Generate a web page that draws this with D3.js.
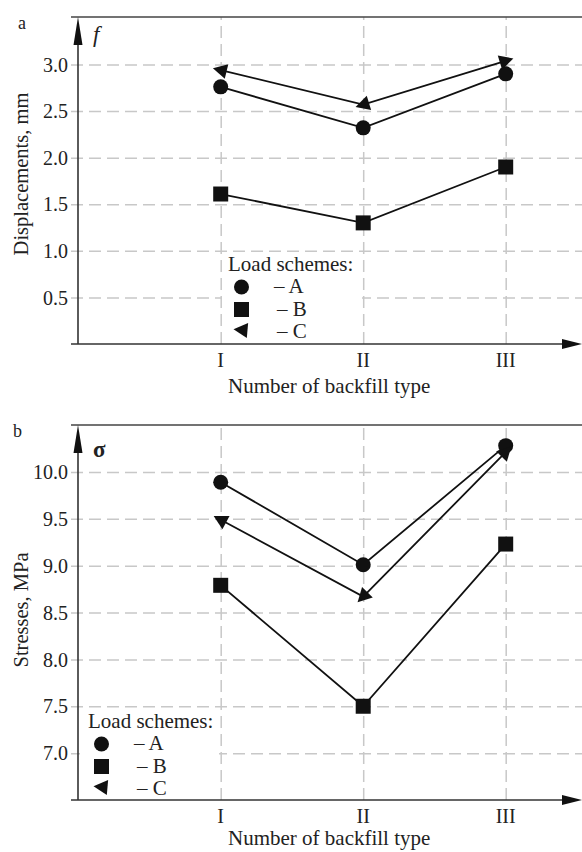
<!DOCTYPE html>
<html lang="en">

<head>
    <meta charset="utf-8">
    <!-- Load d3.js -->
    <script src="https://d3js.org/d3.v7.min.js"></script>
    <style>
        body {
            margin: 0;
            background: white;
        }

        text {
            font-family: "Liberation Serif", "DejaVu Serif", serif;
            fill: #222;
        }

        .grid line {
            stroke: #c8c8c8;
            stroke-width: 1.5px;
            stroke-dasharray: 12, 6;
        }

        .grid path {
            stroke-width: 0;
        }
    </style>
</head>

<body>
    <div id="my_dataviz"></div>

    <script>
        // backfill types on the x axis
        const backfillTypes = ["I", "II", "III"];

        // (a) displacements, mm
        const dispA = [2.76, 2.32, 2.90];
        const dispB = [1.61, 1.30, 1.90];
        const dispC = [2.94, 2.57, 3.04];
        const dispTicks = [0.5, 1.0, 1.5, 2.0, 2.5, 3.0];

        // (b) stresses, MPa
        const stressA = [9.89, 9.01, 10.28];
        const stressB = [8.79, 7.50, 9.23];
        const stressC = [9.49, 8.67, 10.21];
        const stressTicks = [7.0, 7.5, 8.0, 8.5, 9.0, 9.5, 10.0];

        const schemes = ["A", "B", "C"];

        const W = 582, H = 852;
        const axisX = 78;      // where the y axis sits
        const leftEdge = 71;   // where the x axis / top line start

        const svg = d3.select("#my_dataviz")
            .append("svg")
            .attr("width", W)
            .attr("height", H);

        // same x positions for both panels
        const x = d3.scalePoint()
            .domain(backfillTypes)
            .range([220.7, 505.7]);

        // marker shapes
        const circleSym = d3.symbol().type(d3.symbolCircle).size(Math.PI * 7.5 * 7.5);
        const squareSym = d3.symbol().type(d3.symbolSquare).size(15 * 15);
        const triPath = "M8,0 L-6,-7.5 L-6,7.5 Z"; // points to +x, rotated later

        function drawPanel(cfg) {
            const g = svg.append("g");
            const y = d3.scaleLinear()
                .domain(cfg.domain)
                .range([cfg.bottom, cfg.top]);

            // horizontal grid (+ little ticks left of the axis)
            g.append("g")
                .attr("class", "grid")
                .attr("transform", `translate(${axisX},0)`)
                .call(d3.axisLeft(y)
                    .tickValues(cfg.ticks)
                    .tickSize(-(W - axisX))
                    .tickFormat(""))
                .selectAll("line")
                .attr("x1", leftEdge - axisX);

            // vertical grid
            g.append("g")
                .attr("class", "grid")
                .attr("transform", `translate(0,${cfg.bottom})`)
                .call(d3.axisBottom(x)
                    .tickSize(-(cfg.bottom - cfg.top))
                    .tickFormat(""));

            // y tick labels
            g.selectAll(".ylab")
                .data(cfg.ticks)
                .join("text")
                .attr("x", 68)
                .attr("y", d => y(d))
                .attr("dy", "0.36em")
                .attr("text-anchor", "end")
                .style("font-size", "20px")
                .text(d => d.toFixed(1));

            // x tick labels
            g.selectAll(".xlab")
                .data(backfillTypes)
                .join("text")
                .attr("x", d => x(d))
                .attr("y", cfg.bottom + 23)
                .attr("text-anchor", "middle")
                .style("font-size", "20px")
                .text(d => d);

            // top line
            g.append("line")
                .attr("x1", leftEdge).attr("x2", W)
                .attr("y1", cfg.top).attr("y2", cfg.top)
                .attr("stroke", "#444").attr("stroke-width", 1.5);

            // y axis with arrow
            g.append("line")
                .attr("x1", axisX).attr("x2", axisX)
                .attr("y1", cfg.bottom).attr("y2", cfg.top + 20)
                .attr("stroke", "#333").attr("stroke-width", 1.6);
            g.append("path")
                .attr("d", `M${axisX},${cfg.top} L${axisX - 4.5},${cfg.top + 28} L${axisX + 4.5},${cfg.top + 28} Z`)
                .attr("fill", "#111");

            // x axis with arrow
            g.append("line")
                .attr("x1", leftEdge).attr("x2", W - 10)
                .attr("y1", cfg.bottom).attr("y2", cfg.bottom)
                .attr("stroke", "#333").attr("stroke-width", 1.6);
            g.append("path")
                .attr("d", `M${W},${cfg.bottom} L${W - 20},${cfg.bottom - 5} L${W - 20},${cfg.bottom + 5} Z`)
                .attr("fill", "#111");

            // panel letter and variable symbol
            g.append("text")
                .attr("x", cfg.letterX).attr("y", cfg.top + 12)
                .style("font-size", "18px")
                .text(cfg.letter);
            g.append("text")
                .attr("x", 93).attr("y", cfg.top + cfg.symDy)
                .style("font-size", "23px")
                .style("font-style", cfg.symItalic ? "italic" : "normal")
                .style("font-weight", cfg.symItalic ? "normal" : "bold")
                .text(cfg.symbol);

            // axis titles
            g.append("text")
                .attr("text-anchor", "middle")
                .attr("transform", `translate(28,${cfg.titleY}) rotate(-90)`)
                .style("font-size", "20.5px")
                .text(cfg.yTitle);
            g.append("text")
                .attr("x", 228)
                .attr("y", cfg.bottom + cfg.xTitleDy)
                .style("font-size", "21px")
                .text("Number of backfill type");

            // legend background covers the grid
            const lg = cfg.legend;
            g.append("rect")
                .attr("x", lg.boxX).attr("y", lg.boxY)
                .attr("width", lg.boxW).attr("height", cfg.bottom - lg.boxY - 1)
                .attr("fill", "white");

            // data lines
            const line = d3.line()
                .x((d, i) => x(backfillTypes[i]))
                .y(d => y(d));
            cfg.series.forEach(s => {
                g.append("path")
                    .datum(s)
                    .attr("d", line)
                    .attr("fill", "none")
                    .attr("stroke", "#111")
                    .attr("stroke-width", 1.8);
            });

            // circles (A) and squares (B)
            g.selectAll(".ptA")
                .data(cfg.series[0])
                .join("path")
                .attr("d", circleSym)
                .attr("transform", (d, i) => `translate(${x(backfillTypes[i])},${y(d)})`)
                .attr("fill", "#111");
            g.selectAll(".ptB")
                .data(cfg.series[1])
                .join("path")
                .attr("d", squareSym)
                .attr("transform", (d, i) => `translate(${x(backfillTypes[i])},${y(d)})`)
                .attr("fill", "#111");

            // triangles (C) point along the line they end
            const c = cfg.series[2];
            const from = [1, 2, 1];
            g.selectAll(".ptC")
                .data(c)
                .join("path")
                .attr("d", triPath)
                .attr("transform", (d, i) => {
                    const px = x(backfillTypes[i]), py = y(d);
                    const fx = x(backfillTypes[from[i]]), fy = y(c[from[i]]);
                    const ang = Math.atan2(py - fy, px - fx) * 180 / Math.PI;
                    return `translate(${px},${py}) rotate(${ang})`;
                })
                .attr("fill", "#111");

            // legend
            g.append("text")
                .attr("x", lg.x).attr("y", lg.y)
                .style("font-size", "21px")
                .text("Load schemes:");
            const mx = lg.x + 13.5;
            g.append("path").attr("d", circleSym)
                .attr("transform", `translate(${mx},${lg.y + 16})`).attr("fill", "#111");
            g.append("path").attr("d", squareSym)
                .attr("transform", `translate(${mx},${lg.y + 38.5})`).attr("fill", "#111");
            g.append("path").attr("d", triPath)
                .attr("transform", `translate(${mx},${lg.y + 59}) rotate(185)`).attr("fill", "#111");
            schemes.forEach((s, i) => {
                g.append("text")
                    .attr("x", lg.x + (i === 0 ? 46 : 49))
                    .attr("y", lg.y + 22 + i * 22.5)
                    .style("font-size", "21px")
                    .text("\u2013 " + s);
            });
        }

        drawPanel({
            letter: "a", letterX: 18, symbol: "f", symItalic: true, symDy: 25,
            top: 17, bottom: 344, xTitleDy: 49,
            domain: [0, 3.51],
            ticks: dispTicks,
            series: [dispA, dispB, dispC],
            yTitle: "Displacements, mm", titleY: 174,
            legend: { x: 228, y: 271, boxX: 222, boxY: 253, boxW: 140 }
        });

        drawPanel({
            letter: "b", letterX: 13, symbol: "\u03c3", symItalic: false, symDy: 32,
            top: 425, bottom: 800, xTitleDy: 45,
            domain: [6.5, 10.5],
            ticks: stressTicks,
            series: [stressA, stressB, stressC],
            yTitle: "Stresses, MPa", titleY: 610,
            legend: { x: 88, y: 728, boxX: 80, boxY: 712, boxW: 139 }
        });
    </script>

</body>

</html>
